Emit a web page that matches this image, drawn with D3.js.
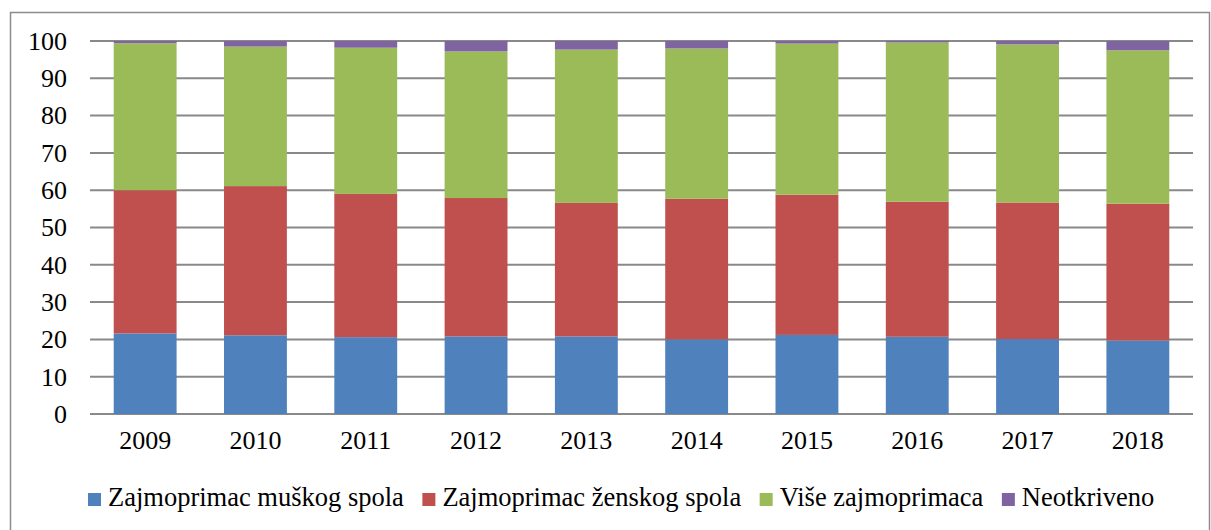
<!DOCTYPE html>
<html lang="hr">
<head>
<meta charset="UTF-8">
<script src="https://cdn.jsdelivr.net/npm/d3@7"></script>
<style>
    body { margin: 0; background: #fff; }
    svg { display: block; }
    text { font-family: "Liberation Serif", "Times New Roman", serif; fill: #000; }
</style>
</head>
<body>
<svg width="1211" height="530"></svg>
<script>
    const WIDTH = 1211;
    const HEIGHT = 530;
    const PLOT_LEFT = 90;
    const PLOT_RIGHT = 1193;
    const PLOT_TOP = 41;
    const PLOT_BOTTOM = 414;

    const years = ["2009", "2010", "2011", "2012", "2013", "2014", "2015", "2016", "2017", "2018"];
    const seriesNames = ["Zajmoprimac muškog spola", "Zajmoprimac ženskog spola", "Više zajmoprimaca", "Neotkriveno"];
    const colors = ["#4f81bd", "#c0504d", "#9bbb59", "#8064a2"];

    const musko = [21.6, 21.1, 20.6, 20.8, 20.8, 20.0, 21.2, 20.7, 20.1, 19.7];
    const zensko = [38.4, 40.0, 38.4, 37.1, 35.8, 37.7, 37.6, 36.2, 36.6, 36.7];
    const vise = [39.4, 37.4, 39.2, 39.3, 41.1, 40.3, 40.5, 42.7, 42.4, 41.1];
    const neotkriveno = [0.6, 1.5, 1.8, 2.8, 2.3, 2.0, 0.7, 0.4, 0.9, 2.5];

    const yTicks = [0, 10, 20, 30, 40, 50, 60, 70, 80, 90, 100];

    const rows = years.map((year, i) => ({
        year: year,
        s0: musko[i],
        s1: zensko[i],
        s2: vise[i],
        s3: neotkriveno[i]
    }));

    const svg = d3.select("svg");

    // outer chart border
    svg.append("rect")
        .attr("x", 10.5)
        .attr("y", 12.5)
        .attr("width", 1199)
        .attr("height", 560)
        .attr("fill", "none")
        .attr("stroke", "#8c8c8c")
        .attr("stroke-width", 1.5);

    const x = d3.scaleBand()
        .domain(years)
        .range([PLOT_LEFT, PLOT_RIGHT])
        .paddingInner(0.43)
        .paddingOuter(0.215);

    const y = d3.scaleLinear()
        .domain([0, 100])
        .range([PLOT_BOTTOM, PLOT_TOP]);

    // gridlines
    svg.append("g")
        .attr("class", "grid")
        .selectAll("line")
        .data(yTicks)
        .enter()
        .append("line")
        .attr("x1", PLOT_LEFT)
        .attr("x2", PLOT_RIGHT)
        .attr("y1", d => y(d))
        .attr("y2", d => y(d))
        .attr("stroke", "#898989")
        .attr("stroke-width", 2);

    const stack = d3.stack().keys(["s0", "s1", "s2", "s3"]);
    const layers = stack(rows);

    svg.selectAll("g.layer")
        .data(layers)
        .enter()
        .append("g")
        .attr("class", "layer")
        .attr("fill", (d, i) => colors[i])
        .selectAll("rect")
        .data(d => d)
        .enter()
        .append("rect")
        .attr("x", d => x(d.data.year))
        .attr("width", x.bandwidth())
        .attr("y", d => y(d[1]))
        .attr("height", d => y(d[0]) - y(d[1]));

    // y axis labels
    const axisLeft = d3.axisLeft(y).tickValues(yTicks).tickSize(0).tickPadding(0);
    const gy = svg.append("g")
        .attr("transform", `translate(${PLOT_LEFT - 23}, 0)`)
        .call(axisLeft);
    gy.select(".domain").remove();
    gy.selectAll("text")
        .attr("font-family", "Liberation Serif")
        .attr("font-size", 26)
        .attr("fill", "#000");

    // x axis labels
    const axisBottom = d3.axisBottom(x).tickSize(0).tickPadding(0);
    const gx = svg.append("g")
        .attr("transform", `translate(0, ${PLOT_BOTTOM + 17})`)
        .call(axisBottom);
    gx.select(".domain").remove();
    gx.selectAll("text")
        .attr("font-family", "Liberation Serif")
        .attr("font-size", 26)
        .attr("fill", "#000");

    // legend
    const legend = svg.append("g").attr("transform", "translate(88, 506)");
    let offset = 0;
    seriesNames.forEach((name, i) => {
        const item = legend.append("g").attr("transform", `translate(${offset}, 0)`);
        item.append("rect")
            .attr("x", 0)
            .attr("y", -13)
            .attr("width", 13)
            .attr("height", 13)
            .attr("fill", colors[i]);
        const t = item.append("text")
            .attr("x", 20)
            .attr("y", 0)
            .attr("font-size", 26.5)
            .text(name);
        offset += 20 + t.node().getComputedTextLength() + 18.5;
    });
</script>
</body>
</html>
